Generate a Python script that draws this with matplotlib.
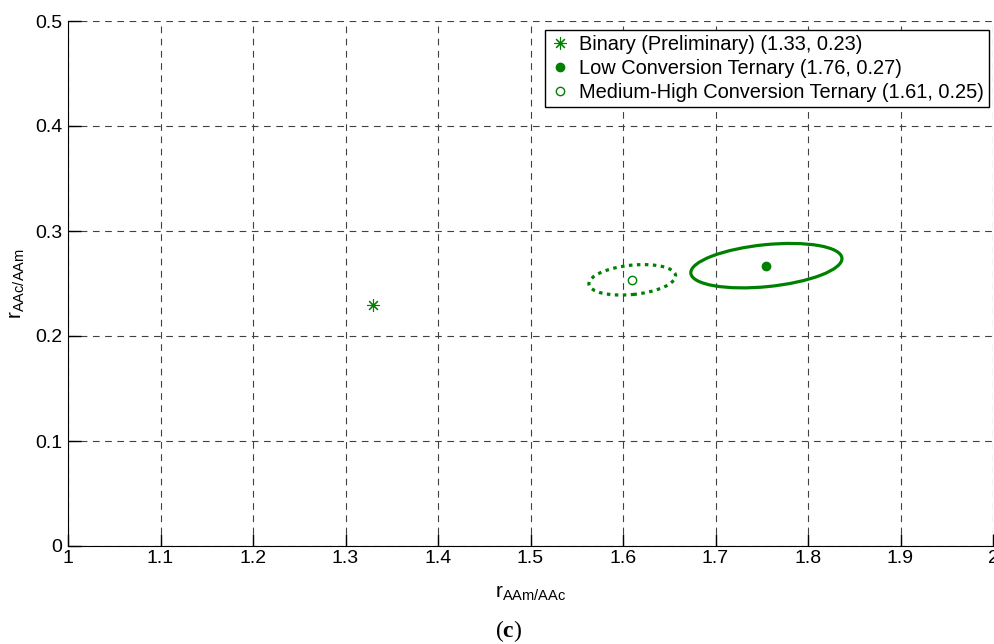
import matplotlib.pyplot as plt
from matplotlib.patches import Ellipse

# point estimates
binary_pt = (1.33, 0.23)
low_pt = (1.755, 0.267)
med_pt = (1.61, 0.253)

# confidence ellipses: centre, width, height, angle (data units)
low_ell = (1.755, 0.267, 0.164, 0.040, 5.0)
med_ell = (1.61, 0.2535, 0.094, 0.028, 5.0)

labels = ['Binary (Preliminary) (1.33, 0.23)',
          'Low Conversion Ternary (1.76, 0.27)',
          'Medium-High Conversion Ternary (1.61, 0.25)']

xticks = [1, 1.1, 1.2, 1.3, 1.4, 1.5, 1.6, 1.7, 1.8, 1.9, 2]
xticklabels = ['1', '1.1', '1.2', '1.3', '1.4', '1.5', '1.6', '1.7', '1.8', '1.9', '2']
yticks = [0, 0.1, 0.2, 0.3, 0.4, 0.5]
yticklabels = ['0', '0.1', '0.2', '0.3', '0.4', '0.5']

green = '#008000'

plt.rcParams['font.family'] = ['Liberation Sans', 'DejaVu Sans']
plt.rcParams['mathtext.fontset'] = 'custom'
plt.rcParams['mathtext.rm'] = 'Liberation Sans'
plt.rcParams['mathtext.it'] = 'Liberation Sans'
plt.rcParams['mathtext.bf'] = 'Liberation Serif:bold'

fig = plt.figure(figsize=(9.95, 6.44), dpi=100)
ax = fig.add_axes([68 / 995, 1 - 546 / 644, 925 / 995, 525 / 644])

ax.plot(*binary_pt, linestyle='none', marker=(8, 2, 0), color=green,
        markersize=9, markeredgewidth=0.8, label=labels[0])
ax.plot(*low_pt, linestyle='none', marker='o', color=green,
        markersize=6, label=labels[1])
ax.plot(*med_pt, linestyle='none', marker='o', markerfacecolor='white',
        markeredgecolor=green, markersize=6, markeredgewidth=1.0, label=labels[2])

cx, cy, w, h, ang = low_ell
ax.add_patch(Ellipse((cx, cy), w, h, angle=ang, fill=False,
                     edgecolor=green, lw=2.3))
cx, cy, w, h, ang = med_ell
ax.add_patch(Ellipse((cx, cy), w, h, angle=ang, fill=False,
                     edgecolor=green, lw=2.3, linestyle=(0, (1.1, 1.4))))

ax.set_xlim(1, 2)
ax.set_ylim(0, 0.5)
ax.set_xticks(xticks)
ax.set_xticklabels(xticklabels)
ax.set_yticks(yticks)
ax.set_yticklabels(yticklabels)
ax.tick_params(direction='in', length=9, width=1, labelsize=14, pad=3)
ax.tick_params(axis='y', pad=4)

ax.grid(True, color='0.25', linestyle=(0, (6, 5)), linewidth=0.8)
ax.set_axisbelow(True)
ax.spines['top'].set_visible(False)
ax.spines['right'].set_visible(False)

ax.set_xlabel(r'r$_{\mathrm{AAm/AAc}}$', fontsize=15, labelpad=12)
ax.set_ylabel(r'r$_{\mathrm{AAc/AAm}}$', fontsize=15, labelpad=6)

leg = ax.legend(loc='upper right', fontsize=14.4, frameon=True, fancybox=False,
                edgecolor='black', framealpha=1, handlelength=1.0,
                handletextpad=0.45, borderpad=0.25, labelspacing=0.25,
                borderaxespad=0.2, bbox_to_anchor=(1.0, 0.99))
leg.get_frame().set_linewidth(1.0)

fig.text(509 / 995, 1 - 631 / 644, r'($\mathbf{c}$)', fontsize=17,
         family='Liberation Serif', ha='center', va='center')

fig.savefig('out.png', dpi=100)
